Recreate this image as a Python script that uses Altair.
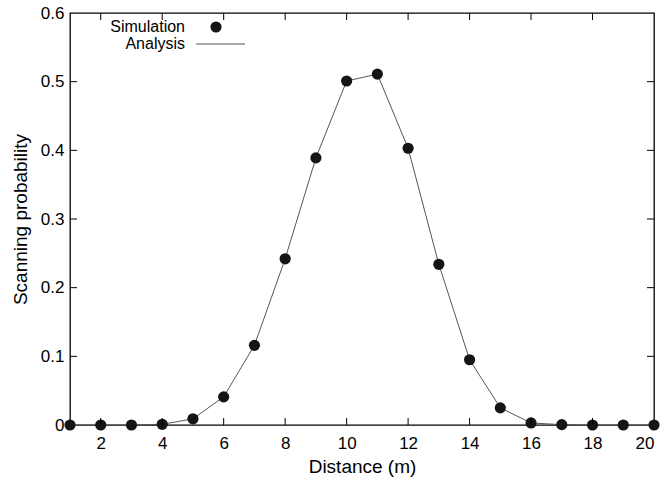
import altair as alt
import pandas as pd

# Scanning probability vs. distance
distance = list(range(1, 21))
simulation = [0, 0, 0, 0.001, 0.009, 0.041, 0.116, 0.242, 0.389, 0.501,
              0.511, 0.403, 0.234, 0.095, 0.025, 0.003, 0.0005, 0, 0, 0]
analysis = [0, 0, 0, 0.001, 0.009, 0.041, 0.116, 0.242, 0.389, 0.501,
            0.511, 0.403, 0.234, 0.095, 0.025, 0.003, 0.0005, 0, 0, 0]

x_tick_values = [2, 4, 6, 8, 10, 12, 14, 16, 18, 20]
y_tick_values = [0, 0.1, 0.2, 0.3, 0.4, 0.5, 0.6]
x_inner_ticks = [2, 4, 6, 8, 10, 12, 14, 16, 18]
y_inner_ticks = [0.1, 0.2, 0.3, 0.4, 0.5]

W, H = 584, 412
TICK = 7
FONT = "Liberation Sans"

df = pd.DataFrame({"distance": distance, "simulation": simulation, "analysis": analysis})
xt = pd.DataFrame({"t": x_inner_ticks})
yt = pd.DataFrame({"t": y_inner_ticks})

x_scale = alt.Scale(domain=[1, 20], nice=False, zero=False)
y_scale = alt.Scale(domain=[0, 0.6], nice=False)

x_enc = alt.X("distance:Q", scale=x_scale,
              axis=alt.Axis(title="Distance (m)", values=x_tick_values, format="d",
                            labelPadding=10, titlePadding=6))
y_enc = alt.Y("analysis:Q", scale=y_scale,
              axis=alt.Axis(title="Scanning probability", values=y_tick_values, format="~g",
                            labelPadding=6, titlePadding=10))

line = alt.Chart(df).mark_line(color="#555555", strokeWidth=1).encode(x=x_enc, y=y_enc)

points = alt.Chart(df).mark_circle(size=125, color="#151515", opacity=1).encode(
    x=alt.X("distance:Q", scale=x_scale),
    y=alt.Y("simulation:Q", scale=y_scale),
)

# inward ticks on all four sides
bottom_ticks = alt.Chart(xt).mark_rule(color="black", strokeWidth=1).encode(
    x=alt.X("t:Q", scale=x_scale), y=alt.value(H), y2=alt.value(H - TICK))
top_ticks = alt.Chart(xt).mark_rule(color="black", strokeWidth=1).encode(
    x=alt.X("t:Q", scale=x_scale), y=alt.value(0), y2=alt.value(TICK))
left_ticks = alt.Chart(yt).mark_rule(color="black", strokeWidth=1).encode(
    y=alt.Y("t:Q", scale=y_scale), x=alt.value(0), x2=alt.value(TICK))
right_ticks = alt.Chart(yt).mark_rule(color="black", strokeWidth=1).encode(
    y=alt.Y("t:Q", scale=y_scale), x=alt.value(W), x2=alt.value(W - TICK))

# key in the upper-left corner
key = pd.DataFrame({"label": ["Simulation", "Analysis"], "row": [14, 31]})
key_text = alt.Chart(key).mark_text(align="right", baseline="middle", font=FONT,
                                    fontSize=16, color="black").encode(
    x=alt.value(115), y=alt.Y("row:Q", scale=None), text="label:N")
key_dot = alt.Chart(key.iloc[[0]]).mark_circle(size=125, color="#151515", opacity=1).encode(
    x=alt.value(146), y=alt.Y("row:Q", scale=None))
key_line = alt.Chart(key.iloc[[1]]).mark_rule(color="#555555", strokeWidth=1).encode(
    x=alt.value(126), x2=alt.value(175), y=alt.Y("row:Q", scale=None))

chart = alt.layer(
    line, points, bottom_ticks, top_ticks, left_ticks, right_ticks,
    key_text, key_dot, key_line,
).properties(
    width=W, height=H,
    autosize=alt.AutoSizeParams(type="none"),
    padding={"left": 70, "top": 13, "right": 11, "bottom": 57},
    background="white",
).configure_view(
    stroke="black", strokeWidth=1.3
).configure_axis(
    domain=False, grid=False, ticks=False,
    labelFont=FONT, labelFontSize=17, labelColor="black",
    titleFont=FONT, titleFontSize=19, titleFontWeight="normal", titleColor="black",
)

chart.save("out.html", embed_options={"renderer": "svg", "actions": False})
